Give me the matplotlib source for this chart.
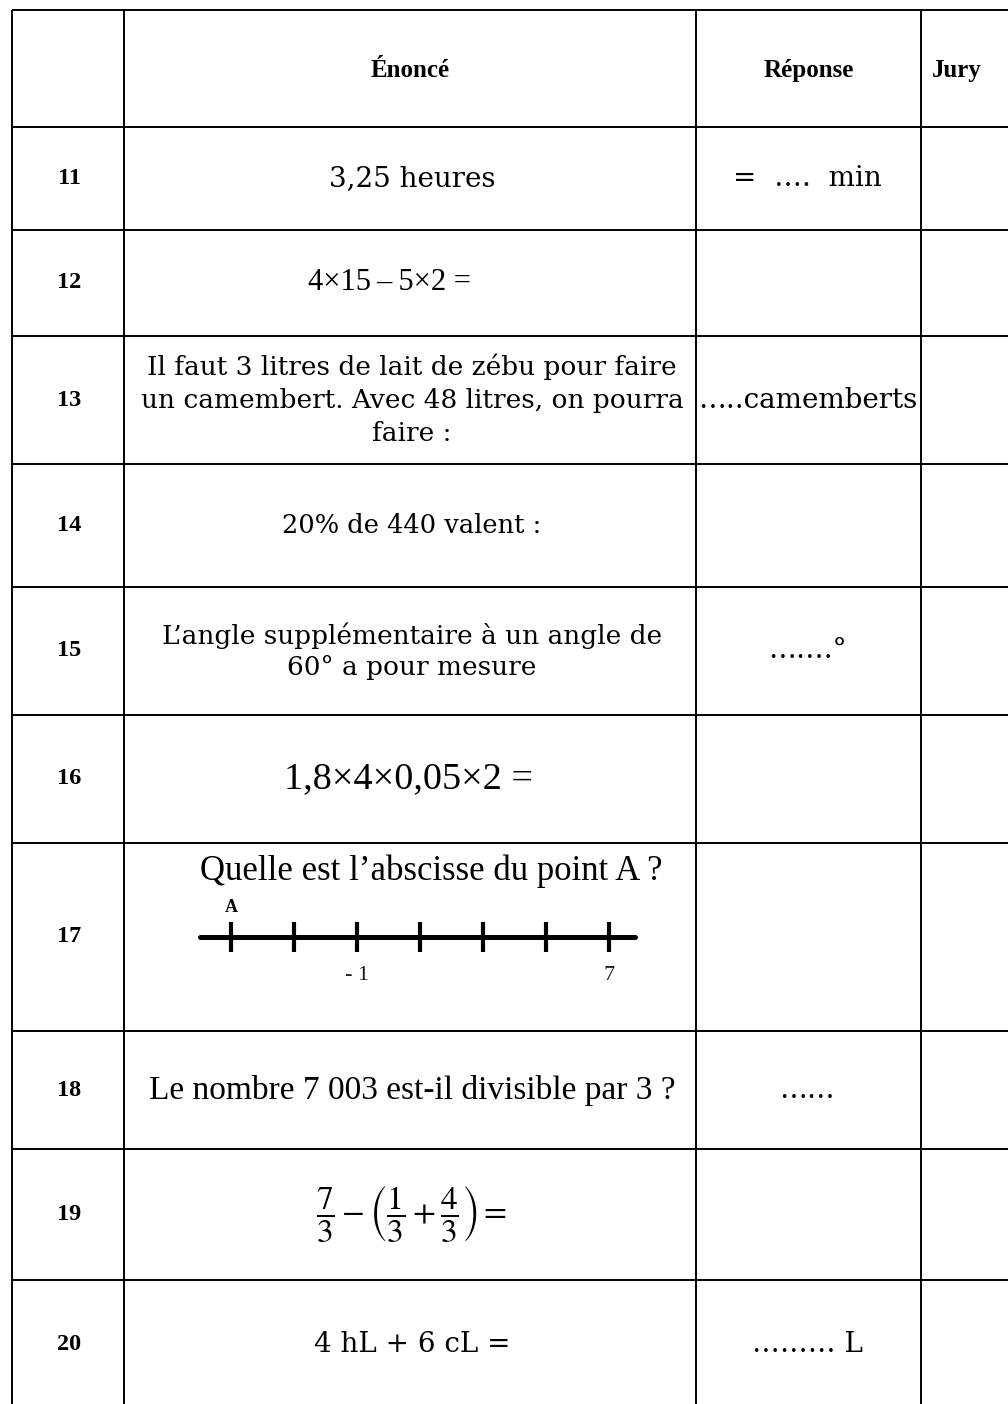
import matplotlib
matplotlib.use("Agg")
import matplotlib.pyplot as plt

# ---- data ----
headers = ["", "Énoncé", "Réponse", "Jury"]
row_numbers = ["11", "12", "13", "14", "15", "16", "17", "18", "19", "20"]
statements = [
    "3,25 heures",
    "4×15\u2009–\u20095×2 =",
    "Il faut 3 litres de lait de zébu pour faire\nun camembert. Avec 48 litres, on pourra\nfaire :",
    "20% de 440 valent :",
    "L’angle supplémentaire à un angle de\n60° a pour mesure",
    "1,8×4×0,05×2 =",
    "Quelle est l’abscisse du point A ?",
    "Le nombre 7 003 est-il divisible par 3 ?",
    r"$\dfrac{7}{3}-\left(\dfrac{1}{3}+\dfrac{4}{3}\right)=$",
    "4 hL + 6 cL =",
]
statement_style = ["school_big", "times_math", "school", "school_small", "school",
                   "times_math_big", "times", "times2", "math", "school_big"]
answers = ["=  ….  min", "", "…..camemberts", "", "…….°", "", "", "……", "", "……… L"]
number_line_ticks = ["A", "", "- 1", "", "", "", "7"]

# ---- layout ----
W, H = 1008, 1404
col_x = [12, 124, 696, 921, 1030]
row_y = [10, 127, 230, 336, 464, 587, 715, 843, 1031, 1149, 1280, 1406]
x_shift = {"12": -22, "16": -3}

plt.rcParams["mathtext.fontset"] = "stix"
fig = plt.figure(figsize=(W / 100, H / 100), dpi=100)
ax = fig.add_axes([0, 0, 1, 1])
ax.set_xlim(0, W)
ax.set_ylim(H, 0)
ax.axis("off")

lw = 1.4
for y in row_y[:-1]:
    ax.plot([col_x[0], W + 5], [y, y], color="black", lw=lw, solid_capstyle="butt")
for x in col_x[:-1]:
    ax.plot([x, x], [row_y[0], H + 5], color="black", lw=lw, solid_capstyle="butt")

hdr_cy = (row_y[0] + row_y[1]) / 2 + 2
for i, h in enumerate(headers):
    if not h:
        continue
    cx = (col_x[i] + col_x[i + 1]) / 2 if i < 3 else 957
    ax.text(cx, hdr_cy, h, ha="center", va="center", family="Liberation Serif",
            weight="bold", fontsize=18)

styles = {
    "school": dict(family="DejaVu Serif", fontsize=19),
    "school_big": dict(family="DejaVu Serif", fontsize=20),
    "school_small": dict(family="DejaVu Serif", fontsize=18.5),
    "times": dict(family="Liberation Serif", fontsize=25),
    "times2": dict(family="Liberation Serif", fontsize=24),
    "times_math": dict(family="Liberation Serif", fontsize=22),
    "times_math_big": dict(family="Liberation Serif", fontsize=27.5),
    "math": dict(fontsize=24),
}

c1 = 69
c2 = (col_x[1] + col_x[2]) / 2
c3 = (col_x[2] + col_x[3]) / 2
for k, num in enumerate(row_numbers):
    top, bot = row_y[k + 1], row_y[k + 2]
    cy = (top + bot) / 2
    if bot > H:
        cy = (top + H + 5) / 2
    ax.text(c1, cy, num, ha="center", va="center", family="Liberation Serif",
            weight="bold", fontsize=17.5)
    st = statement_style[k]
    if num == "17":
        ax.text(c2 + 21, top + 28, statements[k], ha="center", va="center",
                **styles[st])
    else:
        ls = 1.4 if num == "13" else 1.3
        ax.text(c2 + 2 + x_shift.get(num, 0), cy, statements[k], ha="center",
                va="center", linespacing=ls, **styles[st])
    if answers[k]:
        ax.text(c3 - 1, cy, answers[k], ha="center", va="center",
                family="DejaVu Serif", fontsize=20)

# number line for row 17
top17 = row_y[row_numbers.index("17") + 1]
line_y = top17 + 94
x0, step = 231, 63
n = len(number_line_ticks)
ax.plot([x0 - 31, x0 + step * (n - 1) + 26], [line_y, line_y], color="black",
        lw=3.6, solid_capstyle="round")
for i, lab in enumerate(number_line_ticks):
    xt = x0 + i * step
    ax.plot([xt, xt], [line_y - 15, line_y + 15], color="black", lw=3.0,
            solid_capstyle="butt")
    if lab == "A":
        ax.text(xt, line_y - 30, lab, ha="center", va="center",
                family="Liberation Serif", weight="bold", fontsize=13)
    elif lab:
        ax.text(xt, line_y + 38, lab, ha="center", va="center",
                family="Liberation Serif", fontsize=16, color="#1a1a1a")

fig.savefig("out.png", dpi=100)
